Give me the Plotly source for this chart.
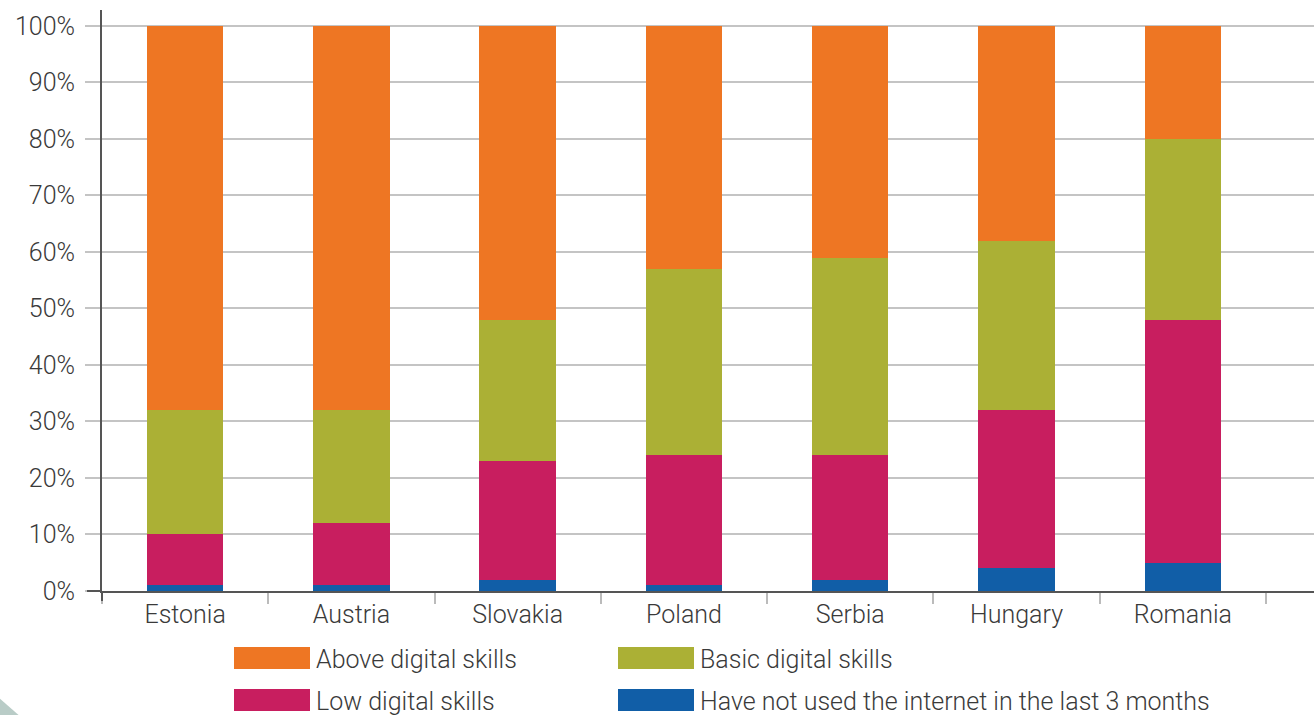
import plotly.graph_objects as go

countries = ["Estonia", "Austria", "Slovakia", "Poland", "Serbia", "Hungary", "Romania"]

not_used = [1, 1, 2, 1, 2, 4, 5]
low_skills = [9, 11, 21, 23, 22, 28, 43]
basic_skills = [22, 20, 25, 33, 35, 30, 32]
above_skills = [68, 68, 52, 43, 41, 38, 20]

series = [
    ("Have not used the internet in the last 3 months", not_used, "#115EA7"),
    ("Low digital skills", low_skills, "#C81E5F"),
    ("Basic digital skills", basic_skills, "#ABB035"),
    ("Above digital skills", above_skills, "#EE7623"),
]

W, H = 1314, 715
L, R, T, B = 102, 0, 10, 124
PW, PH = W - L - R, H - T - B

FONT = dict(family="Roboto", size=25, color="#3a3a3a", weight=300)

fig = go.Figure()
for name, vals, color in series:
    fig.add_trace(go.Bar(
        x=countries, y=vals, name=name, marker=dict(color=color, line=dict(width=0)),
        width=0.46, showlegend=False,
    ))


def px_x(p):
    return (p - L) / PW


def px_y(p):
    return (H - B - p) / PH


shapes = []
# y-axis line extends a little below the baseline
shapes.append(dict(type="line", xref="paper", yref="paper", x0=0, x1=0,
                   y0=px_y(601), y1=0, line=dict(color="#555555", width=2)))
# dark tick at the 0% baseline
shapes.append(dict(type="line", xref="paper", yref="paper", x0=px_x(87), x1=0,
                   y0=0, y1=0, line=dict(color="#555555", width=2)))

# legend: large swatches with text, two columns x two rows
legend_items = [
    ("Above digital skills", "#EE7623", 234, 647),
    ("Basic digital skills", "#ABB035", 618, 647),
    ("Low digital skills", "#C81E5F", 234, 689),
    ("Have not used the internet in the last 3 months", "#115EA7", 618, 689),
]
annotations = []
for label, color, sx, sy in legend_items:
    shapes.append(dict(type="rect", xref="paper", yref="paper",
                       x0=px_x(sx), x1=px_x(sx + 76), y0=px_y(sy + 22), y1=px_y(sy),
                       fillcolor=color, line=dict(width=0)))
    annotations.append(dict(text=label, xref="paper", yref="paper",
                            x=px_x(sx + 80), y=px_y(sy + 12), xanchor="left", yanchor="middle",
                            showarrow=False, font=FONT))

# decorative corner triangle
shapes.append(dict(type="path", xref="paper", yref="paper",
                   path=f"M {px_x(-10)} {px_y(690)} L {px_x(30)} {px_y(725)} L {px_x(-10)} {px_y(725)} Z",
                   fillcolor="#B9CCC7", line=dict(width=0)))

fig.update_layout(
    barmode="stack",
    width=W, height=H,
    margin=dict(l=L, r=R, t=T, b=B),
    plot_bgcolor="white", paper_bgcolor="white",
    font=FONT,
    shapes=shapes,
    annotations=annotations,
    bargap=0,
)
fig.update_xaxes(
    range=[-0.5, 6.789], tickson="boundaries", ticks="outside", ticklen=11,
    tickcolor="#bbbbbb", tickwidth=1.5, showline=True, linecolor="#555555", linewidth=2,
    showgrid=False, tickfont=FONT, ticklabelstandoff=0,
)
fig.update_yaxes(
    range=[0, 102.8], tickvals=list(range(0, 101, 10)),
    ticktext=[f"{v}%" for v in range(0, 101, 10)],
    ticks="outside", ticklen=15, tickcolor="#c4c4c4", tickwidth=1.5,
    showgrid=True, gridcolor="#c4c4c4", gridwidth=1.5, zeroline=False,
    showline=True, linecolor="#555555", linewidth=2, tickfont=FONT,
    ticklabelstandoff=5,
)

fig.write_html("out.html")
